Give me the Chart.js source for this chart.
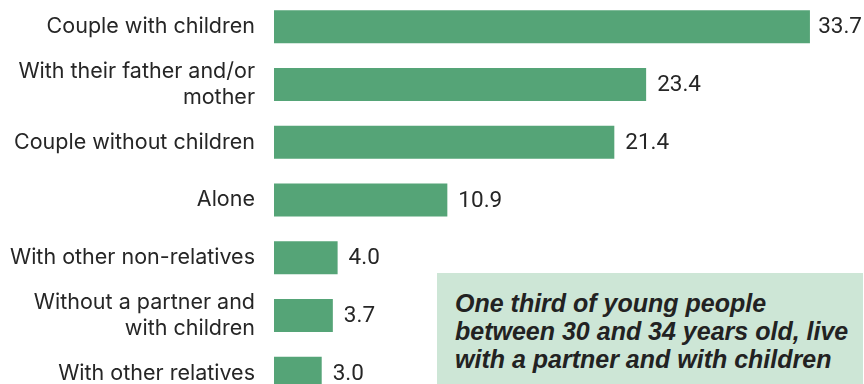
<!DOCTYPE html>
<html>
<head>
<meta charset="utf-8">
<script src="https://cdn.jsdelivr.net/npm/chart.js@4"></script>
<style>
  html, body { margin: 0; padding: 0; background: #fff; }
  body { width: 864px; height: 384px; overflow: hidden; position: relative; }
  #wrap { position: absolute; left: 0; top: -2px; width: 864px; height: 404px; }
  #note {
    position: absolute; left: 437px; top: 273px; width: 426px; height: 111px;
    background: #cde6d6; box-sizing: border-box; padding: 16px 0 0 18px;
    font: italic bold 25px "Liberation Sans", Arial, sans-serif; line-height: 28px;
    color: #222;
  }
</style>
</head>
<body>
<div id="wrap"><canvas id="living-chart" width="864" height="404"></canvas></div>
<div id="note">One third of young people<br>between 30 and 34 years old, live<br>with a partner and with children</div>
<script>
// Living arrangements of young people aged 30-34 (%)
const categories = [
    'Couple with children',
    ['With their father and/or', 'mother'],
    'Couple without children',
    'Alone',
    'With other non-relatives',
    ['Without a partner and', 'with children'],
    'With other relatives'
];
const shares = [33.7, 23.4, 21.4, 10.9, 4.0, 3.7, 3.0];
const axisMax = 37.1;

const barColor = '#55a477';
const textColor = '#262626';

/**
 * Write the value at the end of every bar (kept inside the canvas)
 */
const valueLabels = {
    id: 'valueLabels',
    afterDatasetsDraw(chart) {
        const ctx = chart.ctx;
        const meta = chart.getDatasetMeta(0);
        ctx.save();
        ctx.font = '22.5px Roboto, sans-serif';
        ctx.fillStyle = textColor;
        ctx.textAlign = 'left';
        ctx.textBaseline = 'middle';
        meta.data.forEach((bar, i) => {
            const text = shares[i].toFixed(1);
            const w = ctx.measureText(text).width;
            const x = Math.min(bar.x + 11, chart.width - w - 2);
            ctx.fillText(text, x, bar.y + 1);
        });
        ctx.restore();
    }
};

const ctx = document.getElementById('living-chart').getContext('2d');
new Chart(ctx, {
    type: 'bar',
    data: {
        labels: categories,
        datasets: [{
            data: shares,
            backgroundColor: barColor,
            borderWidth: 0,
            barPercentage: 0.572,
            categoryPercentage: 1
        }]
    },
    options: {
        indexAxis: 'y',
        responsive: false,
        animation: false,
        devicePixelRatio: 1,
        layout: { padding: 0, autoPadding: false },
        plugins: {
            legend: { display: false },
            tooltip: { enabled: false }
        },
        scales: {
            x: {
                display: false,
                min: 0,
                max: axisMax
            },
            y: {
                grid: { display: false, drawTicks: false },
                border: { display: false },
                ticks: {
                    padding: 19,
                    color: textColor,
                    font: { family: 'Inter', size: 21.5, lineHeight: 1.2 }
                },
                afterFit(scale) {
                    // fixed label column, no extra room above/below
                    scale.width = 274;
                    scale.paddingTop = 0;
                    scale.paddingBottom = 0;
                }
            }
        }
    },
    plugins: [valueLabels]
});
</script>
</body>
</html>
